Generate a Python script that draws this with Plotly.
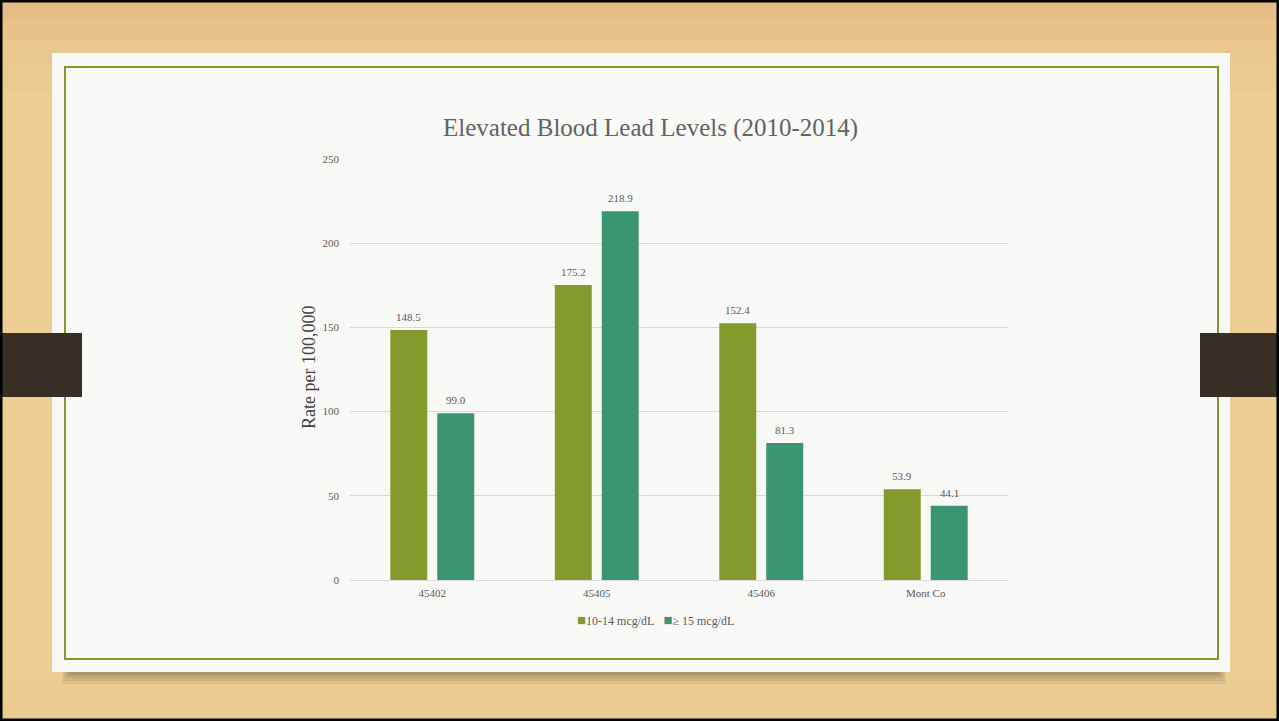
import plotly.graph_objects as go

categories = ["45402", "45405", "45406", "Mont Co"]
series_names = ["10-14 mcg/dL", "≥ 15 mcg/dL"]
low_values = [148.5, 175.2, 152.4, 53.9]
high_values = [99.0, 218.9, 81.3, 44.1]
y_ticks = [0, 50, 100, 150, 200, 250]

W, H = 1279, 721
PL, PR, PT, PB = 350, 1008, 159, 580


def px_x(px):
    return (px - PL) / (PR - PL)


def px_y(py):
    return (PB - py) / (PB - PT)


FONT = "Liberation Serif"
colors = ["#859A2C", "#3B9472"]

fig = go.Figure()
for name, vals, c in zip(series_names, [low_values, high_values], colors):
    fig.add_trace(go.Bar(
        x=categories, y=vals, name=name, marker=dict(color=c, line=dict(width=0)),
        showlegend=False,
    ))

# value labels placed above each bar via data coordinates (category index on the category axis)
value_labels = []
for vals, shift in zip([low_values, high_values], [-23.5, 23.5]):
    for i, v in enumerate(vals):
        value_labels.append(dict(text=f"{v:.1f}", x=i, y=v, xref="x", yref="y", showarrow=False,
                                 xshift=shift, yshift=13, xanchor="center", yanchor="middle",
                                 font=dict(family=FONT, size=11, color="#595959")))


def rect(x0, x1, y0, y1, fill, line=None, layer="below"):
    return dict(type="rect", xref="paper", yref="paper", x0=px_x(x0), x1=px_x(x1), y0=px_y(y0), y1=px_y(y1),
                fillcolor=fill, line=line or dict(width=0), layer=layer)


shapes = []
# wood background with a soft vertical tone change
shapes.append(rect(0, W, 0, H, "#EDCF96"))
wood_bands = [(0, 20, "#E6BD86"), (20, 40, "#E8C289"), (40, 60, "#EAC78D"), (60, 90, "#EBCA90"),
              (680, 721, "#EBCB91")]
for y0, y1, c in wood_bands:
    shapes.append(rect(0, W, y0, y1, c))
# card shadow (soft)
for i, a in enumerate([0.10, 0.12, 0.15, 0.2]):
    shapes.append(rect(62 + i * 2, 1226 - i * 2, 60, 684 - i * 3, f"rgba(110,90,60,{a})"))
# card
shapes.append(rect(52, 1230, 53, 672, "#F9F9F8"))
# green frame
shapes.append(rect(65, 1218, 67, 659, "rgba(0,0,0,0)", dict(width=2, color="#7E9A2A")))
# tabs
shapes.append(rect(0, 82, 333, 397, "#3A2F27"))
shapes.append(rect(1200, W, 333, 397, "#3A2F27"))
# black outer border
shapes.append(rect(1, W - 1, 1, H - 1, "rgba(0,0,0,0)", dict(width=3, color="#000000"), layer="above"))

legend_text = "&nbsp;&nbsp;&nbsp;".join(
    f"<span style='color:{c};font-size:15px'>■</span>{n}" for n, c in zip(series_names, colors))

fig.update_layout(
    width=W, height=H,
    margin=dict(l=PL, r=W - PR, t=PT, b=H - PB),
    paper_bgcolor="#EDCF96", plot_bgcolor="rgba(0,0,0,0)",
    barmode="group", bargap=0.429, bargroupgap=0.213,
    showlegend=False,
    shapes=shapes,
    annotations=[
        dict(text="Elevated Blood Lead Levels (2010-2014)", x=px_x(650), y=px_y(128), xref="paper", yref="paper",
             showarrow=False, xanchor="center", yanchor="middle",
             font=dict(family=FONT, size=25, color="#636363")),
        dict(text="Rate per 100,000", x=px_x(309), y=px_y(368), xref="paper", yref="paper",
             showarrow=False, xanchor="center", yanchor="middle", textangle=-90,
             font=dict(family=FONT, size=18, color="#404040")),
        dict(text=legend_text, x=px_x(655), y=px_y(620), xref="paper", yref="paper",
             showarrow=False, xanchor="center", yanchor="middle",
             font=dict(family=FONT, size=12, color="#595959")),
    ] + value_labels,
    font=dict(family=FONT),
)
fig.update_yaxes(range=[0, 250], tickvals=y_ticks, showgrid=True, gridcolor="#D9D9D9", gridwidth=1,
                 zeroline=False, showline=False, ticks="", tickfont=dict(family=FONT, size=11, color="#595959"),
                 ticklabelstandoff=10)
fig.update_xaxes(type="category", range=[-0.5, len(categories) - 0.5], showline=True, linecolor="#D9D9D9",
                 linewidth=1, ticks="", tickfont=dict(family=FONT, size=11, color="#595959"), ticklabelstandoff=3)

fig.write_html("out.html", config={"displayModeBar": False},
               post_script="document.body.style.margin='0';document.body.style.overflow='hidden';")
